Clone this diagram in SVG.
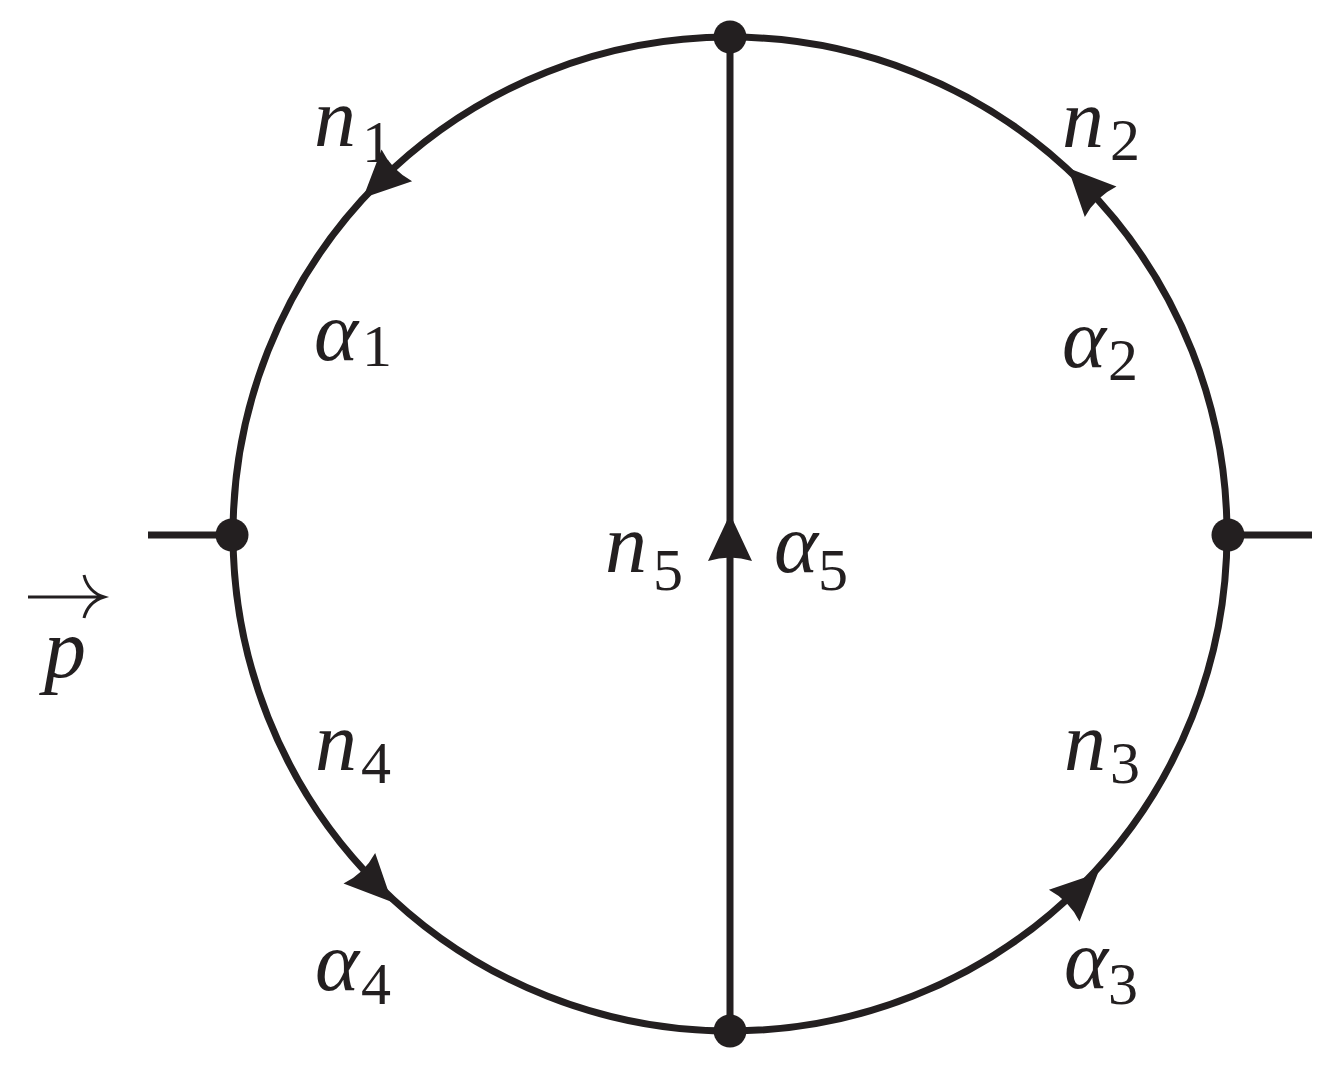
<svg xmlns="http://www.w3.org/2000/svg" xmlns:xlink="http://www.w3.org/1999/xlink" width="1332" height="1078" viewBox="0 0 1332 1078">
<style>
.ln{fill:none;stroke:#231f20;stroke-width:7}
.dot{fill:#231f20}
.ah{fill:#231f20}
.lb{font-family:"Liberation Serif",serif;font-style:italic;font-size:84px;fill:#231f20}
.sb{font-style:normal;font-size:60px}
</style>
<defs>
<path id="ah" class="ah" d="M0,0 L-47,-22 Q-40,0 -47,22 Z"/>
</defs>
<rect width="1332" height="1078" fill="#fff"/>
<g id="connectors">
<circle class="ln" cx="730" cy="534" r="497"/>
<line class="ln" x1="730" y1="37" x2="730" y2="1031"/>
<line class="ln" x1="148" y1="535" x2="232" y2="535"/>
<line class="ln" x1="1228" y1="535" x2="1312" y2="535"/>
<use xlink:href="#ah" transform="translate(363,198) rotate(136)"/>
<use xlink:href="#ah" transform="translate(1068,168) rotate(226)"/>
<use xlink:href="#ah" transform="translate(1098,873) rotate(-44)"/>
<use xlink:href="#ah" transform="translate(392,902) rotate(46)"/>
<use xlink:href="#ah" transform="translate(730,514) rotate(-90)"/>
</g>
<g id="v-top"><circle class="dot" cx="730" cy="37" r="16.5"/></g>
<g id="v-bottom"><circle class="dot" cx="730" cy="1031" r="16.5"/></g>
<g id="v-left"><circle class="dot" cx="232" cy="535" r="16.5"/></g>
<g id="v-right"><circle class="dot" cx="1228" cy="535" r="16.5"/></g>
<g id="labels">
<text class="lb" x="314" y="146">n<tspan class="sb" x="362" y="162">1</tspan></text>
<text class="lb" x="314" y="360">α<tspan class="sb" x="362" y="366">1</tspan></text>
<text class="lb" x="1062" y="147">n<tspan class="sb" x="1110" y="160">2</tspan></text>
<text class="lb" x="1062" y="367">α<tspan class="sb" x="1108" y="380">2</tspan></text>
<text class="lb" x="1064" y="770">n<tspan class="sb" x="1110" y="783">3</tspan></text>
<text class="lb" x="1064" y="988">α<tspan class="sb" x="1108" y="1004">3</tspan></text>
<text class="lb" x="315" y="770">n<tspan class="sb" x="361" y="783">4</tspan></text>
<text class="lb" x="315" y="990">α<tspan class="sb" x="361" y="1004">4</tspan></text>
<text class="lb" x="605" y="572">n<tspan class="sb" x="653" y="590">5</tspan></text>
<text class="lb" x="774" y="572">α<tspan class="sb" x="818" y="590">5</tspan></text>
<text class="lb" x="44" y="677">p</text>
<path d="M28,597 L102,597 M84,575 Q88,592 104,597 Q88,602 84,618" fill="none" stroke="#231f20" stroke-width="3"/>
</g>
</svg>
